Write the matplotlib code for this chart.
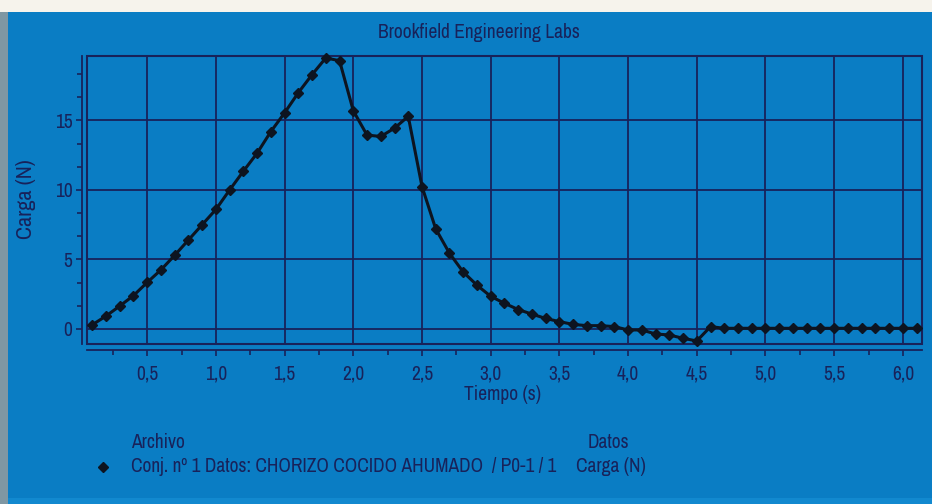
import matplotlib
matplotlib.use("Agg")
import matplotlib.pyplot as plt
from matplotlib.patches import Rectangle
from matplotlib.ticker import FixedLocator, FuncFormatter, MultipleLocator

plt.rcParams['font.family'] = ['Archivo Narrow', 'PT Sans Narrow', 'Roboto Condensed', 'DejaVu Sans']

# ---- data ----
tiempo = [0.1, 0.2, 0.3, 0.4, 0.5, 0.6, 0.7, 0.8, 0.9, 1.0,
          1.1, 1.2, 1.3, 1.4, 1.5, 1.6, 1.7, 1.8, 1.9, 2.0,
          2.1, 2.2, 2.3, 2.4, 2.5, 2.6, 2.7, 2.8, 2.9, 3.0,
          3.1, 3.2, 3.3, 3.4, 3.5, 3.6, 3.7, 3.8, 3.9, 4.0,
          4.1, 4.2, 4.3, 4.4, 4.5, 4.6, 4.7, 4.8, 4.9, 5.0,
          5.1, 5.2, 5.3, 5.4, 5.5, 5.6, 5.7, 5.8, 5.9, 6.0, 6.1]
carga = [0.30, 0.93, 1.65, 2.40, 3.35, 4.25, 5.30, 6.40, 7.50, 8.60,
         10.00, 11.35, 12.65, 14.20, 15.55, 17.00, 18.30, 19.50, 19.30, 15.70,
         13.95, 13.85, 14.45, 15.30, 10.25, 7.20, 5.45, 4.10, 3.15, 2.35,
         1.85, 1.40, 1.07, 0.76, 0.53, 0.33, 0.24, 0.24, 0.17, -0.07,
         -0.07, -0.36, -0.43, -0.67, -0.86, 0.17, 0.05, 0.05, 0.05, 0.05,
         0.05, 0.05, 0.05, 0.05, 0.05, 0.05, 0.05, 0.05, 0.05, 0.05, 0.05]
xticks = [0.5, 1.0, 1.5, 2.0, 2.5, 3.0, 3.5, 4.0, 4.5, 5.0, 5.5, 6.0]
yticks = [0, 5, 10, 15]

titulo = "Brookfield Engineering Labs"
xlabel = "Tiempo (s)"
ylabel = "Carga (N)"
leg_head_archivo = "Archivo"
leg_head_datos = "Datos"
leg_archivo = "Conj. nº 1 Datos: CHORIZO COCIDO AHUMADO  / P0-1 / 1"
leg_datos = "Carga (N)"

# ---- style ----
BG = '#0a7dc4'
NAVY = '#18225a'
LINE = '#0d1420'
FS = 14

W, H = 932, 504
fig = plt.figure(figsize=(W / 100, H / 100), dpi=100, facecolor=BG)

# top white strip and left grey edge
fig.patches.append(Rectangle((0, 1 - 12 / H), 1, 12 / H, transform=fig.transFigure,
                             facecolor='#f6f3ec', edgecolor='none', zorder=0))
fig.patches.append(Rectangle((0, 0), 8 / W, 1 - 12 / H, transform=fig.transFigure,
                             facecolor='#7f97a3', edgecolor='none', zorder=0))
fig.patches.append(Rectangle((8 / W, 0), 1 - 8 / W, 6 / H, transform=fig.transFigure,
                             facecolor='#1289cf', edgecolor='none', zorder=0))

left, right, top, bottom = 87, 922, 56, 344
ax = fig.add_axes([left / W, 1 - bottom / H, (right - left) / W, (bottom - top) / H])
ax.set_facecolor(BG)

ax.plot(tiempo, carga, color=LINE, lw=2.2, marker='D', ms=5, mfc=LINE, mec=LINE,
        zorder=5, clip_on=False)

ax.set_xlim(0.062, 6.139)
ax.set_ylim(-1.08, 19.64)

ax.xaxis.set_major_locator(FixedLocator(xticks))
ax.xaxis.set_minor_locator(MultipleLocator(0.25))
ax.yaxis.set_major_locator(FixedLocator(yticks))
ax.yaxis.set_minor_locator(MultipleLocator(5 / 3))
ax.xaxis.set_major_formatter(FuncFormatter(lambda v, p: f"{v:.1f}".replace('.', ',')))
ax.yaxis.set_major_formatter(FuncFormatter(lambda v, p: f"{v:.0f}"))

ax.grid(True, which='major', color=NAVY, lw=1.3)
ax.set_axisbelow(True)

for s in ['top', 'right']:
    ax.spines[s].set_visible(False)
ax.spines['left'].set_position(('outward', 3.6))
ax.spines['bottom'].set_position(('outward', 4.3))
for s in ['left', 'bottom']:
    ax.spines[s].set_color(NAVY)
    ax.spines[s].set_linewidth(1.3)

# plot box
ax.add_patch(Rectangle((0, 0), 1, 1, transform=ax.transAxes, fill=False,
                       edgecolor=NAVY, lw=1.5, zorder=4, clip_on=False))

ax.tick_params(axis='both', which='both', colors=NAVY, width=1.2, labelcolor=NAVY,
               labelsize=FS)
ax.tick_params(axis='x', which='major', length=4, pad=6.5)
ax.tick_params(axis='x', which='minor', length=3.5)
ax.tick_params(axis='y', which='major', length=4, pad=3)
ax.tick_params(axis='y', which='minor', length=3.5)

fig.text(479 / W, 1 - 32 / H, titulo, ha='center', va='center', color=NAVY, fontsize=FS)
fig.text(503 / W, 1 - 395 / H, xlabel, ha='center', va='center', color=NAVY, fontsize=FS)
fig.text(26 / W, 1 - 199 / H, ylabel, ha='center', va='center', rotation=90,
         color=NAVY, fontsize=16)

fig.text(131 / W, 1 - 442 / H, leg_head_archivo, ha='left', va='center', color=NAVY, fontsize=FS)
fig.text(608 / W, 1 - 442 / H, leg_head_datos, ha='center', va='center', color=NAVY, fontsize=FS)
fig.text(131 / W, 1 - 467 / H, leg_archivo, ha='left', va='center', color=NAVY, fontsize=FS)
fig.text(576 / W, 1 - 467 / H, leg_datos, ha='left', va='center', color=NAVY, fontsize=FS)
fig.lines.append(plt.Line2D([103 / W], [1 - 467 / H], transform=fig.transFigure,
                            marker='D', ms=5, color=LINE, lw=0))

fig.savefig('out.png', dpi=100, facecolor=BG)
